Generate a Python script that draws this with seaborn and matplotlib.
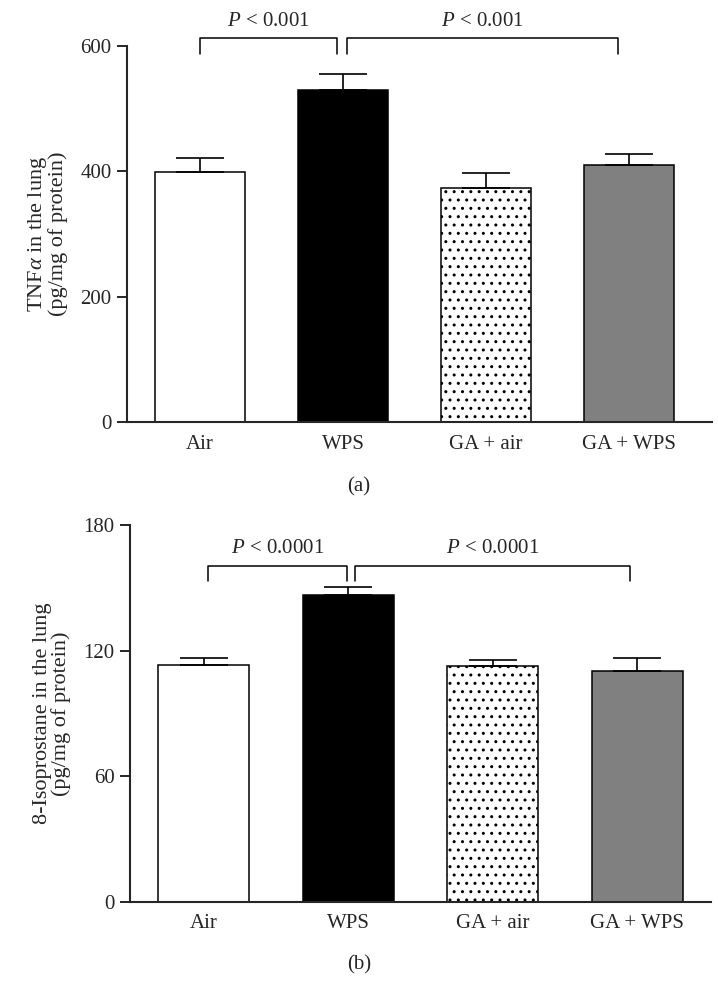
import numpy as np
import pandas as pd
import matplotlib
matplotlib.use("Agg")
import matplotlib.pyplot as plt
import seaborn as sns

"""
Data read off the figure
"""
groups = ["Air", "WPS", "GA + air", "GA + WPS"]
colors = ["white", "black", "white", "#808080"]
hatches = ["", "", "..", ""]

tnf_mean = [399, 529, 373, 410]
tnf_sem = [22, 27, 24, 17]
tnf_ticks = [0, 200, 400, 600]
tnf_pvals = ["0.001", "0.001"]

iso_mean = [113.3, 146.7, 112.5, 110.3]
iso_sem = [3.0, 3.5, 3.2, 6.0]
iso_ticks = [0, 60, 120, 180]
iso_pvals = ["0.0001", "0.0001"]

"""
Style
"""
sns.set_style("ticks")
plt.rcParams["font.family"] = ["Liberation Serif", "DejaVu Serif"]
plt.rcParams["mathtext.fontset"] = "custom"
plt.rcParams["mathtext.rm"] = "Liberation Serif"
plt.rcParams["mathtext.it"] = "Liberation Serif:italic"
plt.rcParams["hatch.linewidth"] = 1.0
FS = 15


def draw_panel(ax, means, sems, ticks, ylabel, pvals, brackets, xlim):
    df = pd.DataFrame({"group": groups, "value": means})
    sns.barplot(data=df, x="group", y="value", hue="group",
                palette=dict(zip(groups, colors)), width=0.63,
                edgecolor="black", linewidth=1.1, errorbar=None,
                legend=False, ax=ax)
    for patch, h in zip(ax.patches, hatches):
        patch.set_hatch(h)
    ax.errorbar(range(len(groups)), means, yerr=[np.zeros(len(sems)), sems],
                fmt="none", ecolor="black", elinewidth=1.2, capsize=17,
                capthick=1.2, zorder=3)

    ax.set_ylim(0, ticks[-1])
    ax.set_xlim(*xlim)
    ax.set_yticks(ticks)
    ax.set_ylabel(ylabel, fontsize=16, labelpad=9, linespacing=0.95)
    ax.set_xlabel("")
    ax.tick_params(axis="y", length=7, width=1.4, labelsize=FS, pad=4)
    ax.tick_params(axis="x", length=0, labelsize=FS, pad=9)
    sns.despine(ax=ax)
    for side in ["left", "bottom"]:
        ax.spines[side].set_linewidth(1.5)

    top = ticks[-1]
    for (x0, x1, ylo, yhi, ytxt), p in zip(brackets, pvals):
        ax.plot([x0, x0, x1, x1], [ylo * top, yhi * top, yhi * top, ylo * top],
                color="black", lw=1.1, clip_on=False)
        ax.text((x0 + x1) / 2, ytxt * top, "$P$ < " + p, ha="center",
                va="center", fontsize=FS, clip_on=False)


fig = plt.figure(figsize=(7.18, 10.08), dpi=100)

"""
Panel (a): TNF alpha
"""
ax1 = fig.add_axes([127 / 718, 1 - 422 / 1008, 585 / 718, 376 / 1008])
draw_panel(ax1, tnf_mean, tnf_sem, tnf_ticks,
           "TNF$\\alpha$ in the lung\n(pg/mg of protein)", tnf_pvals,
           [(0.0, 0.96, 0.978, 1.02, 1.066), (1.03, 2.92, 0.978, 1.02, 1.066)],
           (-0.51, 3.58))
fig.text(0.5, 1 - 487 / 1008, "(a)", ha="center", va="center", fontsize=FS)

"""
Panel (b): 8-isoprostane
"""
ax2 = fig.add_axes([130 / 718, 1 - 902 / 1008, 581 / 718, 377 / 1008])
draw_panel(ax2, iso_mean, iso_sem, iso_ticks,
           "8-Isoprostane in the lung\n(pg/mg of protein)", iso_pvals,
           [(0.03, 0.99, 0.852, 0.892, 0.938), (1.05, 2.95, 0.852, 0.892, 0.938)],
           (-0.51, 3.51))
fig.text(0.5, 1 - 965 / 1008, "(b)", ha="center", va="center", fontsize=FS)

plt.savefig("out.png", dpi=100)
